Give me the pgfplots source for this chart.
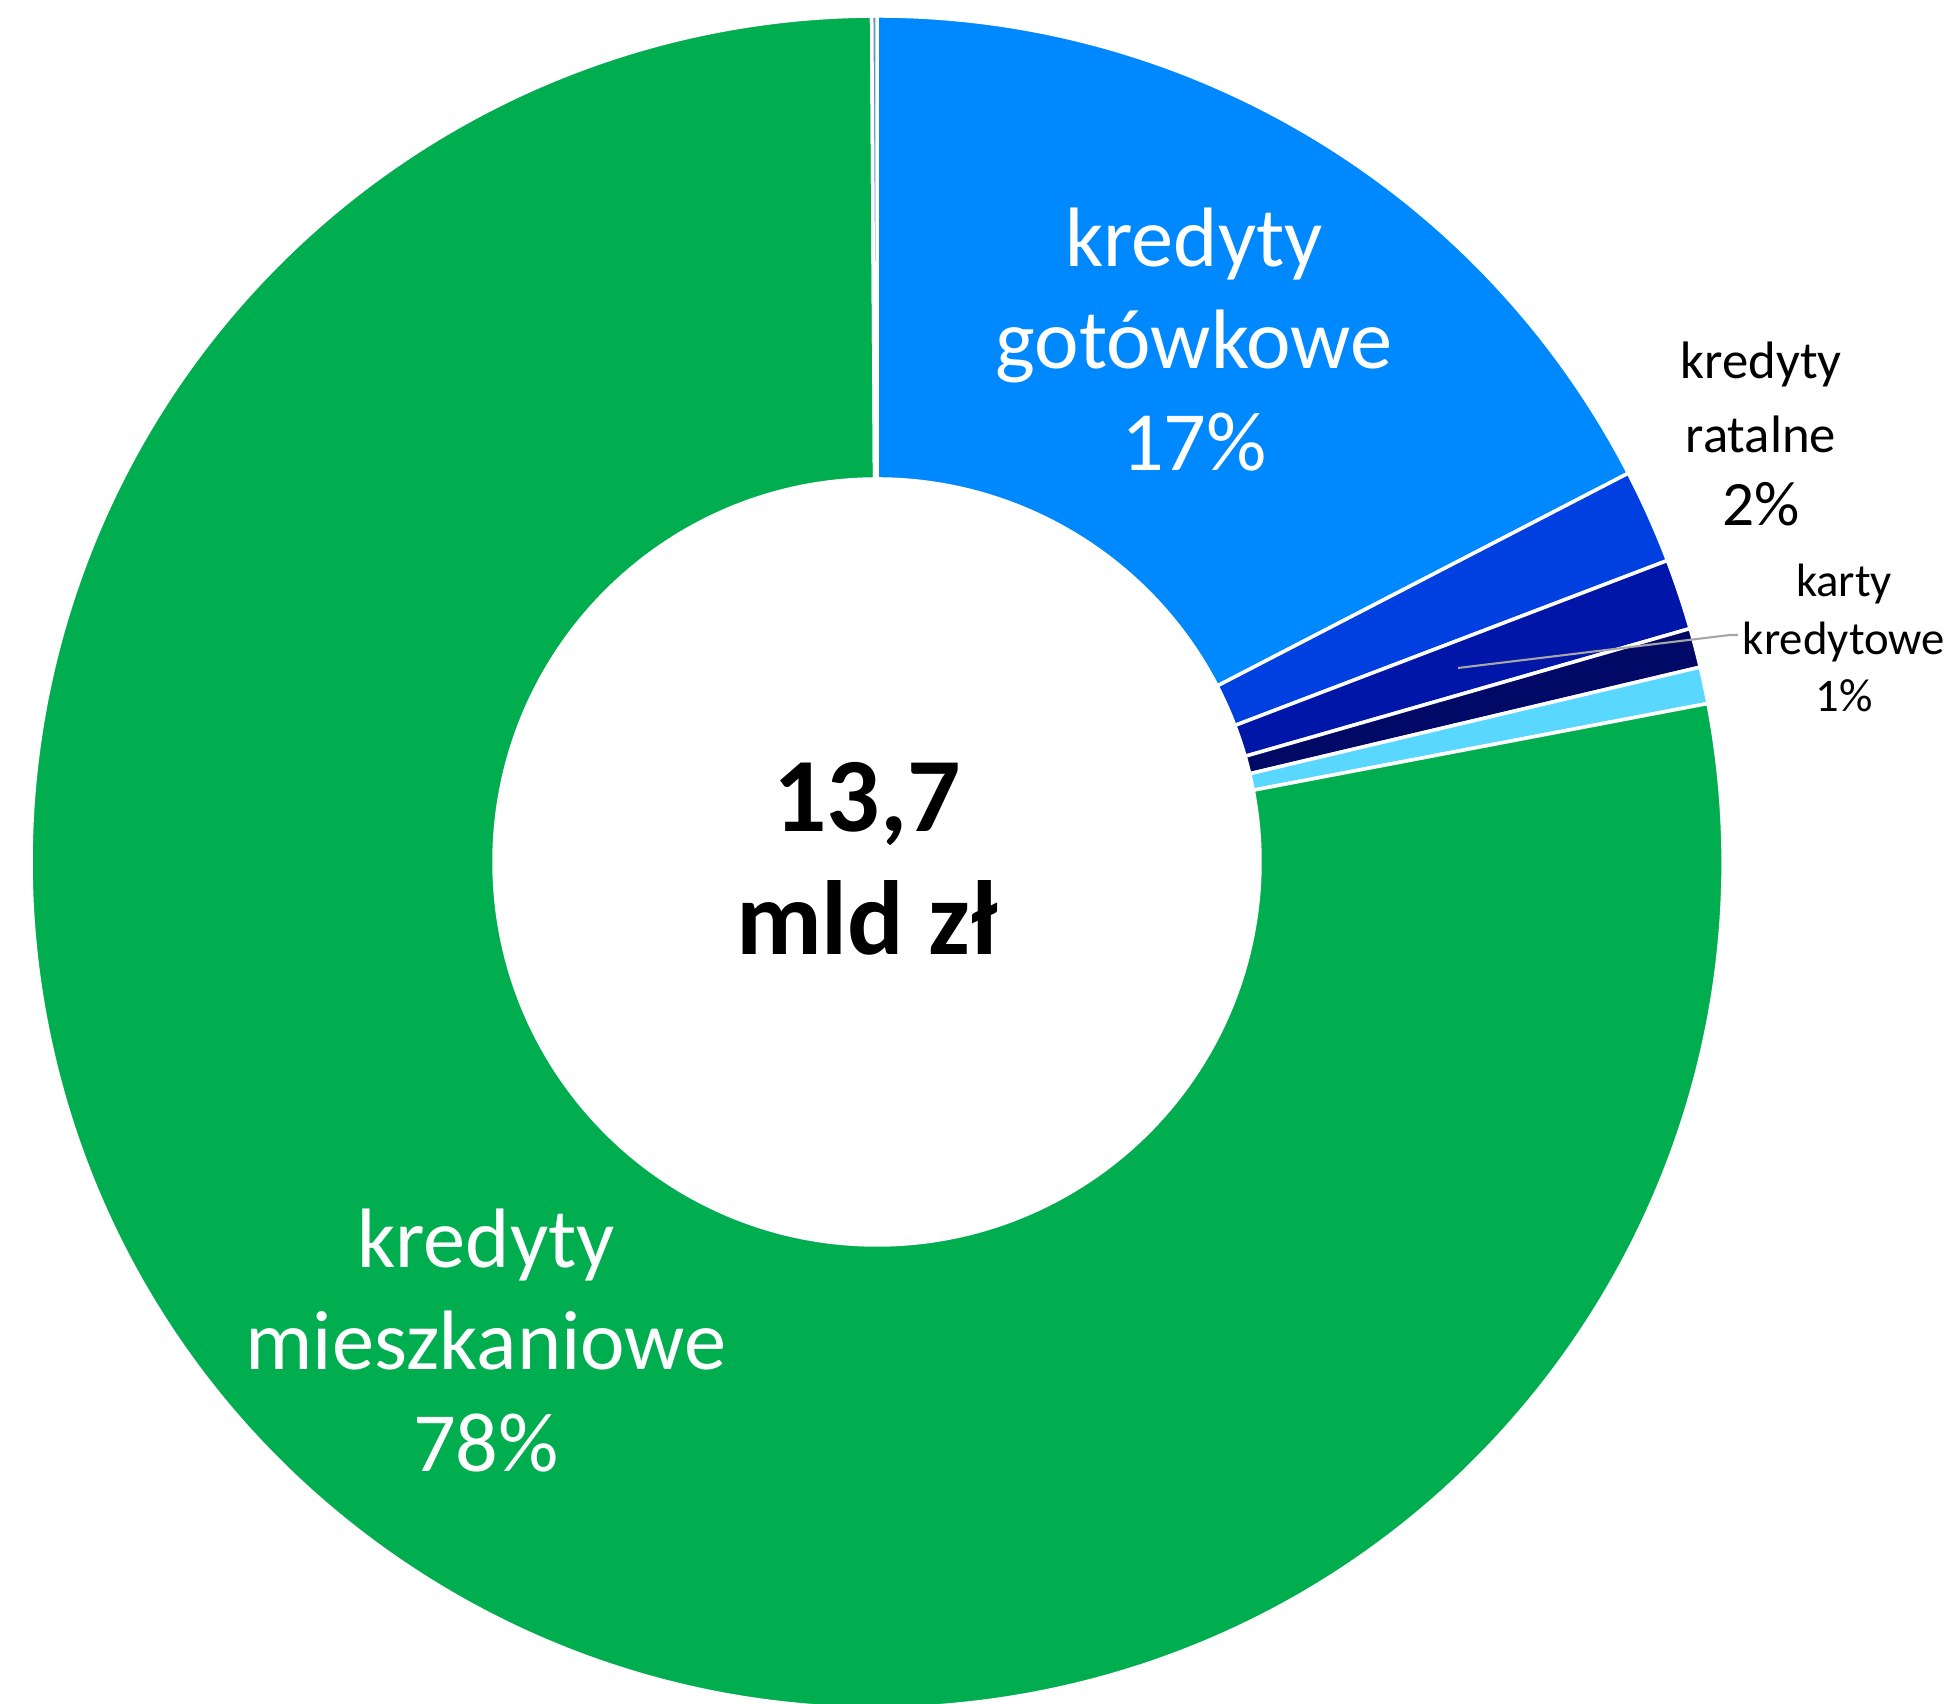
\documentclass[border=0pt]{standalone}
\usepackage{fontspec}
\setmainfont{Carlito}
\usepackage{pgfplots}
\usepackage{pgfplotstable}
\pgfplotsset{compat=1.18}

\definecolor{c0}{HTML}{0088FF} % gotowkowe
\definecolor{c1}{HTML}{0040E0} % ratalne
\definecolor{c2}{HTML}{0016A8} % karty
\definecolor{c3}{HTML}{000A66}
\definecolor{c4}{HTML}{5AD7FF}
\definecolor{c5}{HTML}{00AE50} % mieszkaniowe
\definecolor{c6}{HTML}{5E90C8}

% shares in %, clockwise from 12 o'clock
\pgfplotstableread{
label share
got 17.4
rat 1.8
kar 1.35
nav 0.75
cya 0.7
mie 77.9
oth 0.1
}\shares

\begin{document}
\begin{tikzpicture}
\useasboundingbox (0,0) rectangle (19.51,17.04);
\pgfplotstablegetrowsof{\shares}
\pgfmathtruncatemacro\lastrow{\pgfplotsretval-1}
\xdef\acc{90}
\foreach \i in {0,...,\lastrow}{%
  \pgfplotstablegetelem{\i}{share}\of\shares
  \pgfmathsetmacro\e{\acc-3.6*\pgfplotsretval}%
  \expandafter\xdef\csname sa\i\endcsname{\acc}%
  \expandafter\xdef\csname ea\i\endcsname{\e}%
  \xdef\acc{\e}%
}
\begin{axis}[
    at={(0,0)}, anchor=south west, scale only axis,
    width=19.51cm, height=17.04cm,
    xmin=0, xmax=1951, ymin=0, ymax=1704,
    hide axis, clip=false
]
\coordinate (C) at (axis cs:877,842);
\pgfplotsinvokeforeach{0,...,6}{
  \fill[color=c#1, draw=white, line width=1pt]
    ([shift={(\csname sa#1\endcsname:8.46cm)}]C)
    arc[start angle=\csname sa#1\endcsname, end angle=\csname ea#1\endcsname, radius=8.46cm]
    -- ([shift={(\csname ea#1\endcsname:3.83cm)}]C)
    arc[start angle=\csname ea#1\endcsname, end angle=\csname sa#1\endcsname, radius=3.83cm]
    -- cycle;
}
\node[text=white, align=center, font=\fontsize{24}{29}\selectfont]
  at (axis cs:1194,1364) {kredyty\\gotówkowe\\17\%};
\node[text=white, align=center, font=\fontsize{24}{29}\selectfont]
  at (axis cs:486,363) {kredyty\\mieszkaniowe\\78\%};
\node[text=black, align=center, font=\fontsize{15}{21}\selectfont]
  at (axis cs:1761,1270) {kredyty\\ratalne\\{\fontsize{18}{21}\selectfont 2\%}};
\node[text=black, align=center, font=\fontsize{13.3}{16.5}\selectfont]
  at (axis cs:1844,1066) {karty\\kredytowe\\1\%};
\node[text=black, align=center, font=\bfseries\fontsize{30}{35}\selectfont]
  at (axis cs:867,845) {13,7\\mld zł};
\draw[color=black!35, line width=0.6pt]
  (axis cs:1458,1036) -- (axis cs:1730,1069) -- (axis cs:1738,1069);
\end{axis}
\end{tikzpicture}
\end{document}
